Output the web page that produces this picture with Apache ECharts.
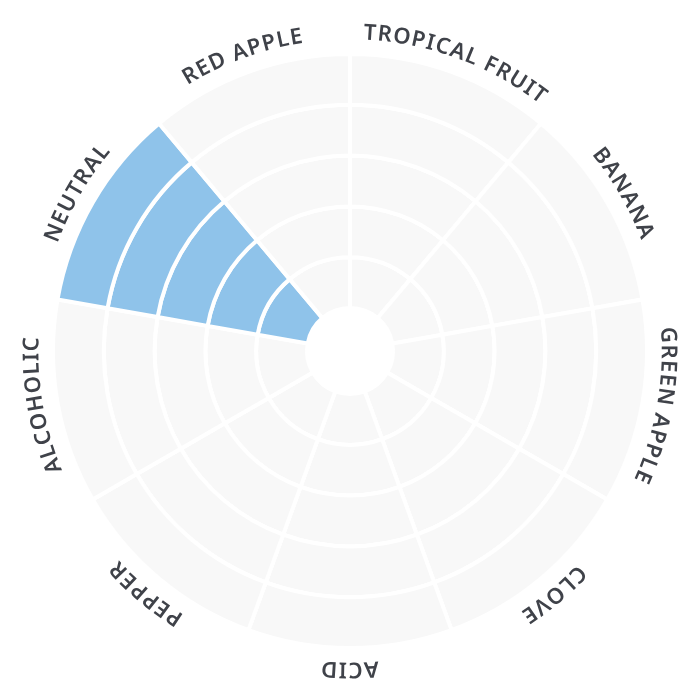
<!DOCTYPE html>
<html>
<head>
<meta charset="utf-8">
<script src="https://cdn.jsdelivr.net/npm/echarts@6/dist/echarts.min.js"></script>
<style>html,body{margin:0;padding:0;background:#fff}#c{width:700px;height:700px}</style>
</head>
<body>
<div id="c"></div>
<script>
const categories = ['TROPICAL FRUIT','BANANA','GREEN APPLE','CLOVE','ACID','PEPPER','ALCOHOLIC','NEUTRAL','RED APPLE'];
const scores = [0,0,0,0,0,0,0,5,0];
const levels = [1,2,3,4,5];

const BLUE = '#8fc3ea';
const GRAY = '#f8f8f8';
const FONT = "600 22px 'Noto Sans'";
const SPACING = 1.5;

const cvs = document.createElement('canvas');
const ctx = cvs.getContext('2d');
ctx.font = FONT;
function w(ch){ return ctx.measureText(ch).width; }

const chart = echarts.init(document.getElementById('c'), null, {renderer:'canvas'});

const barSeries = levels.map(lvl => ({
  type: 'bar',
  coordinateSystem: 'polar',
  stack: 'all',
  barCategoryGap: '0%',
  silent: true,
  itemStyle: {borderColor:'#fff', borderWidth:4},
  data: categories.map((c,i) => ({value:1, itemStyle:{color: scores[i] >= lvl ? BLUE : GRAY}}))
}));

const labelSeries = {
  type: 'custom',
  coordinateSystem: 'polar',
  silent: true,
  encode: {radius: 0, angle: 1},
  data: categories.map((c,i) => [levels.length, i]),
  renderItem: function(params, api){
    const idx = params.dataIndex;
    const cs = params.coordSys;
    const p = api.coord([api.value(0), api.value(1)]);
    const theta = Math.atan2(p[0]-cs.cx, -(p[1]-cs.cy));
    const text = categories[idx];
    const R = cs.r + 21;
    ctx.font = FONT;
    const ws = text.split('').map(w);
    const total = ws.reduce((a,b)=>a+b,0) + SPACING*(ws.length-1);
    let off = -total/2;
    const children = [];
    text.split('').forEach((ch,k) => {
      const a = theta + (off + ws[k]/2)/R;
      off += ws[k] + SPACING;
      if (ch === ' ') return;
      children.push({
        type:'text',
        x: cs.cx + R*Math.sin(a),
        y: cs.cy - R*Math.cos(a),
        rotation: -a,
        style:{text: ch, font: FONT, fill:'#3f4249', align:'center', verticalAlign:'middle'}
      });
    });
    return {type:'group', children};
  }
};

chart.setOption({
  animation: false,
  polar: {center:[350,351], radius:[43,297]},
  angleAxis: {
    type:'category', data: categories, startAngle: 90, clockwise: true,
    axisLine:{show:false}, axisTick:{show:false}, axisLabel:{show:false}, splitLine:{show:false}
  },
  radiusAxis: {
    type:'value', min:0, max:levels.length,
    axisLine:{show:false}, axisTick:{show:false}, axisLabel:{show:false}, splitLine:{show:false}
  },
  series: [...barSeries, labelSeries]
});
</script>
</body>
</html>
